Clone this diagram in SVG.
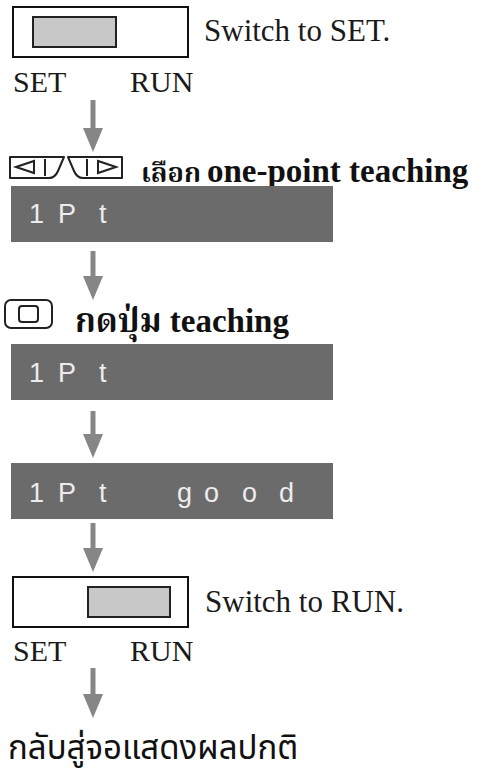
<svg xmlns="http://www.w3.org/2000/svg" width="493" height="774" viewBox="0 0 493 774">
<style>
.bg{fill:#ffffff}
.sw-outer{fill:#ffffff;stroke:#111;stroke-width:2}
.sw-inner{fill:#c8c8c8;stroke:#222;stroke-width:2}
.lbl{font-family:"Liberation Serif","Times New Roman",serif;font-size:30px;fill:#1a1a1a}
.cap{font-size:31px}
.step{font-family:"Liberation Serif","Noto Serif Thai","Noto Sans Thai","Garuda",serif;font-size:33px;font-weight:bold;fill:#111}
.thai-s{font-size:27px}
.bar{fill:#6b6b6b}
.lcd{font-family:"Liberation Sans",Arial,sans-serif;font-size:27px;fill:#ececec}
.icon{fill:#fff;stroke:#222;stroke-width:2;stroke-linejoin:round}
.iconl{fill:none;stroke:#222;stroke-width:2}
.final{font-family:"Noto Sans Thai","Noto Sans","Garuda","Loma",sans-serif;font-size:33px;fill:#111}
.conn{stroke:#868686;stroke-width:5;fill:none}
</style>
<defs>
<marker id="ah" markerUnits="userSpaceOnUse" markerWidth="24" markerHeight="20" viewBox="0 0 24 20" refX="2" refY="10" orient="auto">
<path d="M0,0 L24,10 L0,20 Z" fill="#868686"/>
</marker>
</defs>
<rect class="bg" x="0" y="0" width="493" height="774"/>

<g id="connectors">
<line class="conn" x1="93" y1="100" x2="93" y2="130" marker-end="url(#ah)"/>
<line class="conn" x1="93" y1="251" x2="93" y2="278" marker-end="url(#ah)"/>
<line class="conn" x1="93" y1="411" x2="93" y2="436" marker-end="url(#ah)"/>
<line class="conn" x1="93" y1="523" x2="93" y2="550" marker-end="url(#ah)"/>
<line class="conn" x1="93" y1="668" x2="93" y2="696" marker-end="url(#ah)"/>
</g>

<g id="switch-set">
<rect class="sw-outer" x="13" y="7" width="175" height="50"/>
<rect class="sw-inner" x="33" y="17" width="83" height="30"/>
<text class="lbl cap" x="204" y="41">Switch to SET.</text>
<text class="lbl" x="13" y="92">SET</text>
<text class="lbl" x="130" y="92">RUN</text>
</g>

<g id="select-step">
<path class="icon" d="M10,157 H64 L58,171 Q55,178 49,178 H10 Z"/>
<path class="icon" d="M122,157 H68 L74,171 Q77,178 83,178 H122 Z"/>
<path class="iconl" d="M16,167 L34,161 L34,173 Z"/>
<line class="iconl" x1="45" y1="159" x2="45" y2="176"/>
<line class="iconl" x1="87" y1="159" x2="87" y2="176"/>
<path class="iconl" d="M116,167 L98,161 L98,173 Z"/>
<text class="step" x="141" y="182"><tspan class="thai-s">เลือก</tspan> <tspan x="207">one-point teaching</tspan></text>
</g>

<g id="lcd-1">
<rect class="bar" x="11" y="186" width="322" height="56"/>
<text class="lcd" x="29 45 58 80 99" y="223">1 P t</text>
</g>

<g id="press-step">
<rect class="icon" x="5" y="300" width="47" height="28" rx="6"/>
<rect class="iconl" x="19" y="306" width="19" height="16" rx="3"/>
<text class="step" x="75" y="332">กดปุ่ม teaching</text>
</g>

<g id="lcd-2">
<rect class="bar" x="11" y="344" width="322" height="56"/>
<text class="lcd" x="29 45 58 80 99" y="382">1 P t</text>
</g>

<g id="lcd-3">
<rect class="bar" x="11" y="463" width="322" height="56"/>
<text class="lcd" x="29 45 58 80 99 130 177 204 242 279" y="502">1 P t good</text>
</g>

<g id="switch-run">
<rect class="sw-outer" x="13" y="577" width="175" height="50"/>
<rect class="sw-inner" x="88" y="587" width="82" height="30"/>
<text class="lbl cap" x="205" y="612">Switch to RUN.</text>
<text class="lbl" x="13" y="661">SET</text>
<text class="lbl" x="130" y="661">RUN</text>
</g>

<g id="final">
<text class="final" x="8" y="759">กลับสู่จอแสดงผลปกติ</text>
</g>
</svg>
